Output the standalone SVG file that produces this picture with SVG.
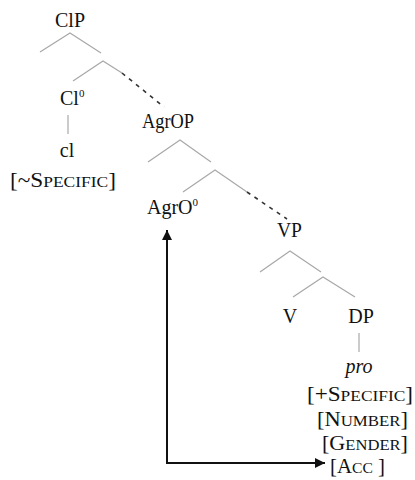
<svg xmlns="http://www.w3.org/2000/svg" width="415" height="480" viewBox="0 0 415 480">
<style>
  text { font-family: "Liberation Serif", "DejaVu Serif", "Times New Roman", serif; font-size: 20px; fill: #111; }
  .sc { font-size: 15px; }
  .sup { font-size: 11px; }
  .branch { stroke: #a8a8a8; stroke-width: 1.2; fill: none; }
  .dots { stroke: #333; stroke-width: 1.6; stroke-dasharray: 4 5; fill: none; }
  .arrow { stroke: #111; stroke-width: 2; fill: none; }
</style>
<defs>
  <marker id="ah" viewBox="0 0 10 10" refX="10" refY="5" markerWidth="10" markerHeight="10" markerUnits="userSpaceOnUse" orient="auto">
    <path d="M0,0 L10,5 L0,10 Z" fill="#111"/>
  </marker>
</defs>
<rect width="415" height="480" fill="#fff"/>
<g id="connectors">
  <polyline class="branch" points="40,52 70,33 101,53"/>
  <polyline class="branch" points="73,81 103,61 122,73"/>
  <line class="dots" x1="122" y1="73" x2="164" y2="107"/>
  <polyline class="branch" points="148,162 180,140 211,162"/>
  <polyline class="branch" points="183,192 215,170 247,192"/>
  <line class="dots" x1="247" y1="192" x2="287" y2="219"/>
  <polyline class="branch" points="260,272 290,251 321,272"/>
  <polyline class="branch" points="293,297 323,277 355,297"/>
  <line class="branch" x1="68" y1="115" x2="68" y2="134"/>
  <line class="branch" x1="359" y1="333" x2="359" y2="352"/>
  <polyline class="arrow" points="167,463 167,230" marker-end="url(#ah)"/>
  <line class="arrow" x1="166" y1="463" x2="325" y2="463" marker-end="url(#ah)"/>
</g>
<g id="ClP"><text x="70" y="27" text-anchor="middle">ClP</text></g>
<g id="Cl0"><text x="60" y="105">Cl<tspan class="sup" dy="-8">0</tspan></text></g>
<g id="cl"><text x="67" y="157" text-anchor="middle">cl</text></g>
<g id="minusSpecific"><text x="10" y="187" textLength="106" lengthAdjust="spacingAndGlyphs">[~S<tspan class="sc">PECIFIC</tspan>]</text></g>
<g id="AgrOP"><text x="142" y="128" textLength="52" lengthAdjust="spacingAndGlyphs">AgrOP</text></g>
<g id="AgrO0"><text x="147" y="214">AgrO<tspan class="sup" dy="-8">0</tspan></text></g>
<g id="VP"><text x="277" y="237" textLength="25" lengthAdjust="spacingAndGlyphs">VP</text></g>
<g id="V"><text x="290" y="323" text-anchor="middle">V</text></g>
<g id="DP"><text x="361" y="323" text-anchor="middle">DP</text></g>
<g id="pro"><text x="359" y="373" text-anchor="middle" font-style="italic">pro</text></g>
<g id="plusSpecific"><text x="307" y="401" textLength="106" lengthAdjust="spacingAndGlyphs">[+S<tspan class="sc">PECIFIC</tspan>]</text></g>
<g id="number"><text x="317" y="426" textLength="91" lengthAdjust="spacingAndGlyphs">[N<tspan class="sc">UMBER</tspan>]</text></g>
<g id="gender"><text x="322" y="450" textLength="86" lengthAdjust="spacingAndGlyphs">[G<tspan class="sc">ENDER</tspan>]</text></g>
<g id="acc"><text x="330" y="473" textLength="55" lengthAdjust="spacingAndGlyphs">[A<tspan class="sc">CC</tspan> ]</text></g>
</svg>
